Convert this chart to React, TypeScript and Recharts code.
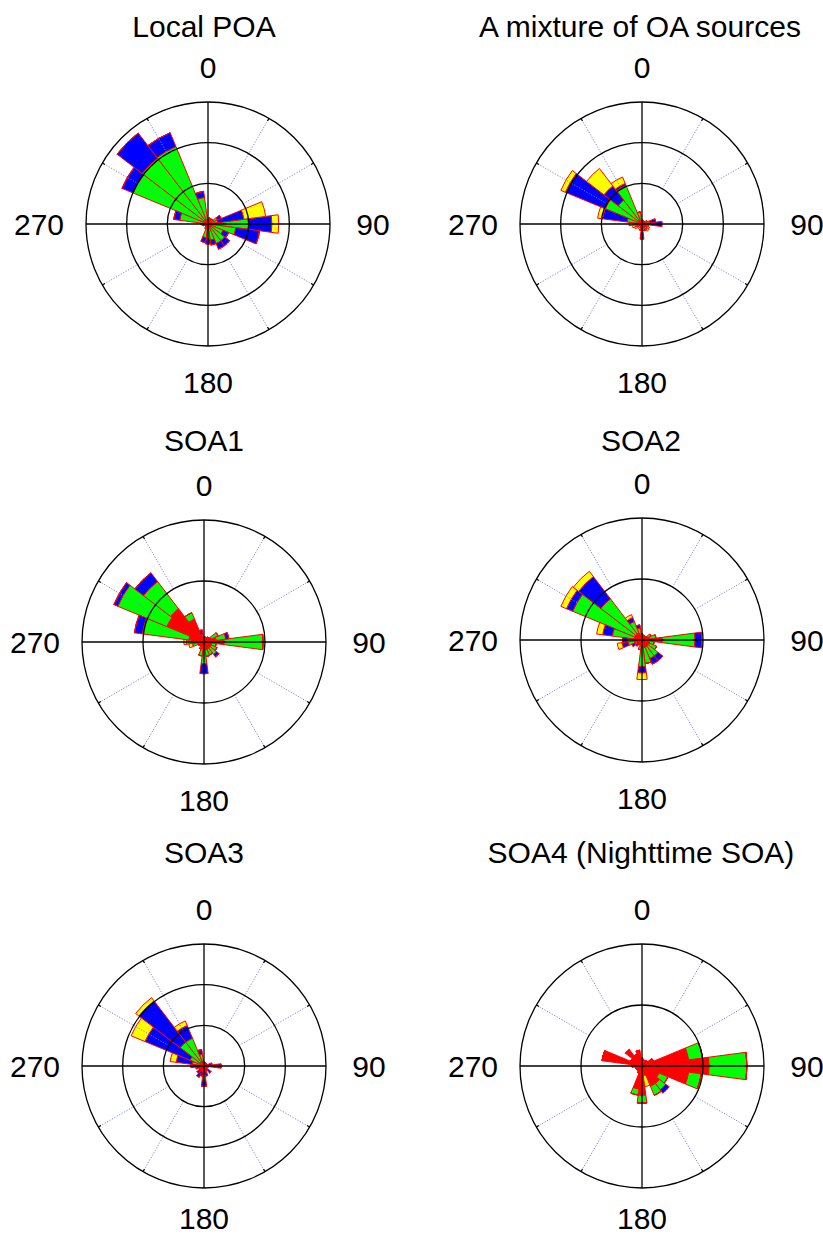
import { PolarAngleAxis, PolarGrid, PolarRadiusAxis, RadialBar, RadialBarChart } from "recharts";

// wind directions, sector centres (deg from north, clockwise)
const DIRECTIONS = [0, 15, 30, 45, 60, 75, 90, 105, 120, 135, 150, 165, 180, 195, 210, 225, 240, 255, 270, 285, 300, 315, 330, 345];

// Local POA
const localPoaRed = [0.5, 0.5, 0.4, 0.4, 0.4, 0.5, 0.6, 0.6, 0.5, 0.5, 0.5, 0.5, 0.6, 0.5, 0.4, 0.4, 0.4, 0.4, 0.6, 0.5, 0.6, 0.6, 0.6, 0.5];
const localPoaGreen = [0, 0.25, 0.25, 0.35, 0.85, 0.75, 4.4, 2.85, 1.5, 2.1, 2.1, 1.5, 1.25, 1.2, 0.25, 0, 0, 0.25, 0.25, 3.0, 9.35, 9.6, 9.7, 2.8];
const localPoaBlue = [0, 0, 0, 0, 0.5, 3.2, 2.85, 2.95, 0.75, 0.75, 0.75, 0.6, 0.6, 0.6, 0, 0, 0, 0, 0, 0.75, 1.5, 3.9, 1.85, 0.75];
const localPoaYellow = [0, 0, 0, 0, 0, 2.7, 0.85, 0, 0, 0, 0, 0, 0, 0, 0, 0, 0, 0, 0, 0, 0, 0, 0, 0];

// A mixture of OA sources
const mixtureRed = [0.5, 0.4, 0.4, 0.4, 0.4, 0.5, 0.6, 0.5, 0.4, 0.5, 0.5, 0.5, 0.75, 0.5, 0.4, 0.4, 0.5, 0.5, 0.6, 0.6, 0.6, 0.6, 0.6, 0.5];
const mixtureGreen = [0, 0, 0, 0, 0.3, 0.5, 0.6, 0.3, 0.3, 0.3, 0.4, 0.3, 0.35, 0.3, 0, 0, 0.2, 0.35, 0.5, 1.25, 4.3, 3.1, 4.55, 1.0];
const mixtureBlue = [0, 0, 0, 0, 0, 0.7, 1.25, 0, 0, 0, 0, 0, 0.75, 0, 0, 0, 0, 0, 0, 3.05, 5.3, 2.2, 0.25, 0];
const mixtureYellow = [0, 0, 0, 0, 0, 0, 0, 0, 0.3, 0.3, 0, 0, 0, 0, 0, 0.3, 0.3, 0.35, 0.5, 0.6, 0.6, 2.7, 0.85, 0];

// SOA1
const soa1Red = [0.4, 0.4, 0.4, 0.5, 0.65, 1.0, 1.65, 0.65, 0.65, 0.65, 0.65, 0.65, 0.65, 0.55, 0.5, 0.4, 0.5, 0.55, 0.65, 1.25, 3.3, 3.45, 2.05, 0.5];
const soa1Green = [0, 0, 0, 0, 0.6, 0.8, 3.2, 0.35, 0.5, 0.65, 0.5, 0.55, 1.15, 0.6, 0.15, 0, 0, 0.4, 0.8, 3.85, 4.35, 2.8, 0.55, 0.15];
const soa1Blue = [0, 0, 0, 0, 0, 0.25, 0, 0, 0, 0.25, 0, 0, 0.8, 0, 0, 0, 0, 0, 0, 0.65, 0.35, 0.9, 0, 0.35];
const soa1Yellow = [0, 0, 0, 0, 0, 0, 0, 0, 0, 0, 0, 0, 0, 0, 0, 0, 0, 0.3, 0.2, 0, 0, 0, 0, 0];

// SOA2
const soa2Red = [0.5, 0.4, 0.4, 0.4, 0.5, 0.65, 1.65, 0.65, 0.65, 0.65, 0.65, 0.65, 0.65, 0.5, 0.4, 0.5, 0.5, 0.65, 0.65, 0.65, 0.65, 0.65, 0.65, 0.5];
const soa2Green = [0, 0, 0, 0, 0.3, 0.5, 2.7, 0.35, 0.65, 1.0, 1.0, 1.3, 1.55, 0.3, 0, 0, 0.15, 0.5, 0.55, 1.8, 5.5, 3.6, 1.0, 0.5];
const soa2Blue = [0, 0, 0, 0, 0, 0, 0.55, 0, 0, 0.5, 0.5, 0, 0.5, 0, 0, 0.15, 0.25, 0.5, 0.4, 0.8, 0.55, 2.3, 0.35, 0.25];
const soa2Yellow = [0, 0, 0, 0, 0, 0, 0, 0, 0, 0, 0, 0, 0.55, 0, 0, 0, 0, 0.4, 0, 0.5, 0.5, 0.55, 0.25, 0];

// SOA3
const soa3Red = [0.5, 0.4, 0.4, 0.4, 0.4, 0.6, 1.25, 0.5, 0.4, 0.6, 0.6, 0.75, 1.0, 0.75, 0.75, 0.6, 0.6, 0.6, 0.75, 0.6, 0.6, 0.6, 0.6, 0.6];
const soa3Green = [0, 0, 0, 0, 0, 0, 0.25, 0, 0, 0, 0, 0, 0.75, 0, 0, 0, 0, 0, 0, 0.85, 1.25, 3.1, 3.1, 0.85];
const soa3Blue = [0, 0, 0, 0, 0, 0.4, 0.6, 0, 0, 0.5, 0, 0.5, 0.75, 0.5, 0.75, 0.5, 0, 0.4, 0.85, 2.0, 6.0, 6.4, 1.7, 0.6];
const soa3Yellow = [0, 0, 0, 0, 0, 0, 0, 0, 0, 0, 0, 0, 0, 0, 0, 0, 0, 0, 0, 0.75, 1.85, 0.5, 0.6, 0];

// SOA4 (Nighttime SOA)
const soa4Red = [0.65, 0.5, 0.5, 0.55, 1.0, 3.85, 5.5, 3.85, 1.5, 1.8, 1.8, 0.8, 2.4, 1.9, 0.65, 0.5, 0.5, 0.55, 0.8, 3.3, 1.0, 1.7, 1.05, 1.3];
const soa4Green = [0, 0, 0, 0, 0, 1.15, 3.1, 1.05, 0.8, 0.65, 0.8, 0, 0.65, 0.5, 0, 0, 0, 0, 0, 0, 0, 0, 0, 0];
const soa4Blue = [0, 0, 0, 0, 0, 0, 0, 0, 0, 0.35, 0, 0, 0, 0, 0, 0, 0, 0, 0, 0, 0, 0, 0, 0];
const soa4Yellow = [0, 0, 0, 0, 0, 0, 0, 0, 0, 0, 0, 0.9, 0, 0, 0, 0, 0, 0, 0, 0, 0, 0, 0, 0];

const FONT = '"Liberation Sans", Arial, Helvetica, sans-serif';
const FONT_SIZE = 30;
const SIZE = 420;
const CENTER = SIZE / 2;
const RADIUS = 122;

const SERIES = [
  { key: "red", fill: "#ff0000" },
  { key: "green", fill: "#00ff00" },
  { key: "blue", fill: "#0000ff" },
  { key: "yellow", fill: "#ffff00" },
];

// recharts angles: 0 = 3 o'clock, counter-clockwise
const AXIS_ANGLES = [90, 0, -90, 180];
const DOTTED_ANGLES = [60, 30, -30, -60, -120, -150, 150, 120];

type Panel = {
  title: string;
  red: number[];
  green: number[];
  blue: number[];
  yellow: number[];
  max: number;
  rings: number;
  x: number;
  y: number;
  titleX: number;
  titleY: number;
  bottomShift: number;
};

const PANELS: Panel[] = [
  { title: "Local POA", red: localPoaRed, green: localPoaGreen, blue: localPoaBlue, yellow: localPoaYellow, max: 15, rings: 3, x: 208, y: 224, titleX: 204, titleY: 27, bottomShift: 28 },
  { title: "A mixture of OA sources", red: mixtureRed, green: mixtureGreen, blue: mixtureBlue, yellow: mixtureYellow, max: 15, rings: 3, x: 641.5, y: 224, titleX: 640, titleY: 27, bottomShift: 28 },
  { title: "SOA1", red: soa1Red, green: soa1Green, blue: soa1Blue, yellow: soa1Yellow, max: 10, rings: 2, x: 203.5, y: 641.5, titleX: 204, titleY: 441, bottomShift: 28 },
  { title: "SOA2", red: soa2Red, green: soa2Green, blue: soa2Blue, yellow: soa2Yellow, max: 10, rings: 2, x: 641.5, y: 640, titleX: 641, titleY: 441, bottomShift: 28 },
  { title: "SOA3", red: soa3Red, green: soa3Green, blue: soa3Blue, yellow: soa3Yellow, max: 15, rings: 3, x: 203.5, y: 1066, titleX: 204, titleY: 853, bottomShift: 22 },
  { title: "SOA4 (Nighttime SOA)", red: soa4Red, green: soa4Green, blue: soa4Blue, yellow: soa4Yellow, max: 10, rings: 2, x: 641.5, y: 1066, titleX: 641, titleY: 853, bottomShift: 22 },
];

function CompassTick(props: any) {
  const { x, y, payload, bottomShift } = props;
  const v = payload?.value;
  const shift: Record<number, [number, number]> = {
    0: [0, -27],
    90: [35, 0],
    180: [0, bottomShift],
    270: [-39, 0],
  };
  const s = shift[v];
  if (!s) return <g />;
  return (
    <text x={x + s[0]} y={y + s[1]} dy="0.35em" textAnchor="middle" fontSize={FONT_SIZE} fontFamily={FONT} fill="#000">
      {v}
    </text>
  );
}

const baseProps = {
  width: SIZE,
  height: SIZE,
  cx: CENTER,
  cy: CENTER,
  outerRadius: RADIUS,
  margin: { top: 0, right: 0, bottom: 0, left: 0 },
};

// overlays use north-up, clockwise
const overlayProps = { ...baseProps, startAngle: 90, endAngle: -270 };

const layer: React.CSSProperties = { position: "absolute", left: 0, top: 0 };

function WindRose({ panel }: { panel: Panel }) {
  const data = DIRECTIONS.map((dir, i) => ({
    dir,
    red: panel.red[i],
    green: panel.green[i],
    blue: panel.blue[i],
    yellow: panel.yellow[i],
  }));
  const rings = Array.from({ length: panel.rings }, (_, i) => (RADIUS * (i + 1)) / panel.rings);

  return (
    <>
      <div
        style={{
          position: "absolute",
          left: panel.titleX - 250,
          top: panel.titleY - FONT_SIZE / 2,
          width: 500,
          textAlign: "center",
          fontSize: FONT_SIZE,
          lineHeight: `${FONT_SIZE}px`,
          whiteSpace: "nowrap",
        }}
      >
        {panel.title}
      </div>
      <div style={{ position: "absolute", left: panel.x - CENTER, top: panel.y - CENTER, width: SIZE, height: SIZE }}>
        {/* stacked sectors: band of each direction starts half a sector before it */}
        <div style={layer}>
          <RadialBarChart
            {...baseProps}
            startAngle={82.5}
            endAngle={-277.5}
            data={data}
            innerRadius={0}
            layout="centric"
            barCategoryGap={0}
            barGap={0}
          >
            <PolarAngleAxis dataKey="dir" type="category" axisLine={false} tickLine={false} tick={false} />
            <PolarRadiusAxis type="number" domain={[0, panel.max]} tick={false} axisLine={false} />
            {SERIES.map((s) => (
              <RadialBar
                key={s.key}
                dataKey={s.key}
                stackId="speed"
                fill={s.fill}
                stroke="#ff0000"
                strokeWidth={1}
                isAnimationActive={false}
              />
            ))}
          </RadialBarChart>
        </div>
        {/* dotted spokes start at the first ring */}
        <div style={layer}>
          <RadialBarChart {...overlayProps} data={data} innerRadius={rings[0]}>
            <PolarGrid gridType="circle" polarAngles={DOTTED_ANGLES} polarRadius={[]} stroke="#7f7fe6" strokeWidth={1} strokeDasharray="1.2 1.6" />
          </RadialBarChart>
        </div>
        {/* small ticks on the outer circle */}
        <div style={layer}>
          <RadialBarChart {...overlayProps} data={data} innerRadius={RADIUS - 3}>
            <PolarGrid gridType="circle" polarAngles={DOTTED_ANGLES} polarRadius={[]} stroke="#000" strokeWidth={1.2} />
          </RadialBarChart>
        </div>
        <div style={layer}>
          <RadialBarChart {...overlayProps} data={data} innerRadius={0} layout="centric">
            <PolarGrid gridType="circle" polarAngles={AXIS_ANGLES} polarRadius={rings} stroke="#000" strokeWidth={1.3} />
            <PolarAngleAxis
              dataKey="dir"
              type="category"
              axisLine={false}
              tickLine={false}
              tickSize={8}
              tick={(p: any) => <CompassTick {...p} bottomShift={panel.bottomShift} />}
            />
            <PolarRadiusAxis type="number" domain={[0, panel.max]} tick={false} axisLine={false} />
          </RadialBarChart>
        </div>
      </div>
    </>
  );
}

export default function App() {
  return (
    <div
      style={{
        position: "absolute",
        left: 0,
        top: 0,
        width: 823,
        height: 1235,
        overflow: "hidden",
        background: "#fff",
        fontFamily: FONT,
        color: "#000",
      }}
    >
      {PANELS.map((p) => (
        <WindRose key={p.title} panel={p} />
      ))}
    </div>
  );
}
